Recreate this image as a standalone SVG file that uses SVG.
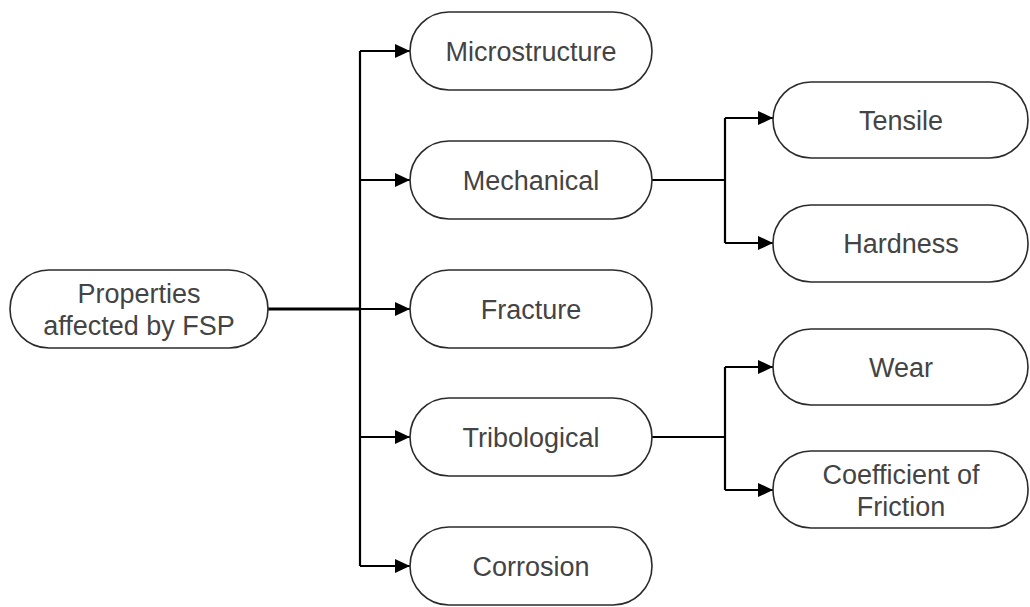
<svg xmlns="http://www.w3.org/2000/svg" width="1030" height="607" viewBox="0 0 1030 607">
  <style>
    .node rect { fill: #ffffff; stroke: #2b2b2b; stroke-width: 1.6; }
    .node text { font-family: "Liberation Sans", Arial, sans-serif; font-size: 27px; fill: #444444; text-anchor: middle; }
    .edge { fill: none; stroke: #000000; stroke-width: 2.2; }
    .edge.main { stroke-width: 3; }
  </style>
  <defs>
    <marker id="arrow" markerWidth="16" markerHeight="16" refX="15" refY="8" orient="auto" markerUnits="userSpaceOnUse">
      <path d="M0,1 L15,8 L0,15 Z" fill="#000000"/>
    </marker>
  </defs>
  <rect width="1030" height="607" fill="#ffffff"/>

  <g id="connectors">
    <!-- root to trunk -->
    <path class="edge main" d="M268,309 H360"/>
    <path class="edge" d="M360,51 V566"/>
    <path class="edge" d="M360,51 H410" marker-end="url(#arrow)"/>
    <path class="edge" d="M360,180 H410" marker-end="url(#arrow)"/>
    <path class="edge" d="M360,309 H410" marker-end="url(#arrow)"/>
    <path class="edge" d="M360,437 H410" marker-end="url(#arrow)"/>
    <path class="edge" d="M360,566 H410" marker-end="url(#arrow)"/>
    <!-- mechanical branch -->
    <path class="edge" d="M652,180 H725"/>
    <path class="edge" d="M725,118 V243"/>
    <path class="edge" d="M725,118 H773" marker-end="url(#arrow)"/>
    <path class="edge" d="M725,243 H773" marker-end="url(#arrow)"/>
    <!-- tribological branch -->
    <path class="edge" d="M652,437 H725"/>
    <path class="edge" d="M725,367 V490"/>
    <path class="edge" d="M725,367 H773" marker-end="url(#arrow)"/>
    <path class="edge" d="M725,490 H773" marker-end="url(#arrow)"/>
  </g>

  <g id="root" class="node">
    <rect x="10" y="270" width="258" height="78" rx="39"/>
    <text x="139" y="303">Properties</text>
    <text x="139" y="335">affected by FSP</text>
  </g>

  <g id="microstructure" class="node">
    <rect x="410" y="12" width="242" height="78" rx="39"/>
    <text x="531" y="61">Microstructure</text>
  </g>
  <g id="mechanical" class="node">
    <rect x="410" y="141" width="242" height="78" rx="39"/>
    <text x="531" y="190">Mechanical</text>
  </g>
  <g id="fracture" class="node">
    <rect x="410" y="270" width="242" height="78" rx="39"/>
    <text x="531" y="319">Fracture</text>
  </g>
  <g id="tribological" class="node">
    <rect x="410" y="398" width="242" height="78" rx="39"/>
    <text x="531" y="447">Tribological</text>
  </g>
  <g id="corrosion" class="node">
    <rect x="410" y="527" width="242" height="78" rx="39"/>
    <text x="531" y="576">Corrosion</text>
  </g>

  <g id="tensile" class="node">
    <rect x="773" y="82" width="255" height="76" rx="38"/>
    <text x="901" y="130">Tensile</text>
  </g>
  <g id="hardness" class="node">
    <rect x="773" y="205" width="255" height="77" rx="38"/>
    <text x="901" y="253">Hardness</text>
  </g>
  <g id="wear" class="node">
    <rect x="773" y="329" width="255" height="76" rx="38"/>
    <text x="901" y="377">Wear</text>
  </g>
  <g id="coefficient-of-friction" class="node">
    <rect x="773" y="451" width="255" height="77" rx="38"/>
    <text x="901" y="484">Coefficient of</text>
    <text x="901" y="516">Friction</text>
  </g>
</svg>
